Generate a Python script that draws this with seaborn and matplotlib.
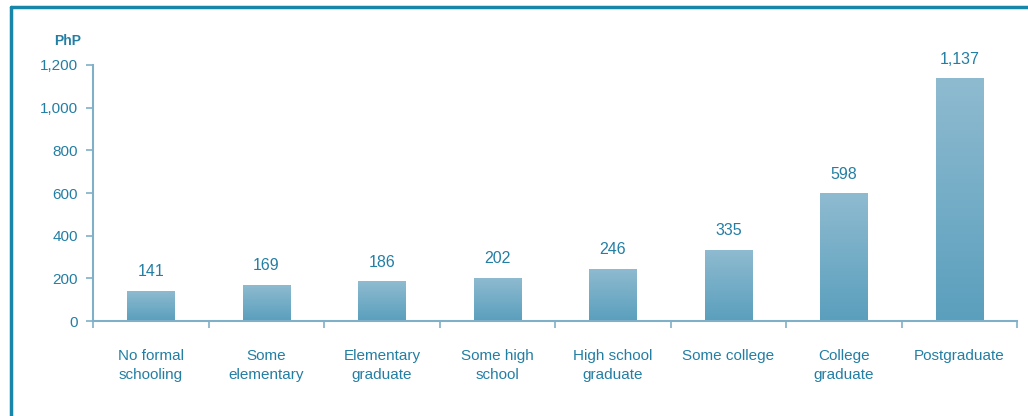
import matplotlib
matplotlib.use("Agg")
import matplotlib.pyplot as plt
import matplotlib.colors as mcolors
import numpy as np
import pandas as pd
import seaborn as sns

sns.set_theme(style="white")
plt.rcParams['font.family'] = ['Liberation Sans', 'DejaVu Sans']

categories = ["No formal\nschooling", "Some\nelementary", "Elementary\ngraduate",
              "Some high\nschool", "High school\ngraduate", "Some college",
              "College\ngraduate", "Postgraduate"]
values = [141, 169, 186, 202, 246, 335, 598, 1137]
value_labels = ["141", "169", "186", "202", "246", "335", "598", "1,137"]
y_ticks = [0, 200, 400, 600, 800, 1000, 1200]
y_ticklabels = ["0", "200", "400", "600", "800", "1,000", "1,200"]

text_color = "#237ea4"
axis_color = "#7fb0c8"
frame_color = "#1786a8"

df = pd.DataFrame({"category": categories, "value": values})

fig = plt.figure(figsize=(10.28, 4.16), dpi=100)
ax = fig.add_axes([0.0905, 0.228, 0.899, 0.616])

sns.barplot(data=df, x="category", y="value", ax=ax, width=0.41,
            color="#6aa8c2", saturation=1, edgecolor="none")

# gradient fill on each bar
cmap = mcolors.LinearSegmentedColormap.from_list("bar", ["#5a9fbd", "#8fbbd0"])
grad = np.linspace(0, 1, 256).reshape(-1, 1)
for patch in ax.patches:
    x0, y0 = patch.get_x(), patch.get_y()
    w, h = patch.get_width(), patch.get_height()
    im = ax.imshow(grad, extent=[x0, x0 + w, y0, y0 + h], origin="lower",
                   cmap=cmap, aspect="auto", zorder=patch.get_zorder() + 0.1)
    im.set_clip_path(patch)

ax.set_xlim(-0.5, len(categories) - 0.5)
ax.set_ylim(0, 1200)

for i, (v, lab) in enumerate(zip(values, value_labels)):
    ax.text(i, v + 55, lab, ha="center", va="bottom", color=text_color, fontsize=11.5)

ax.set_yticks(y_ticks)
ax.set_yticklabels(y_ticklabels, color=text_color, fontsize=11)
ax.set_xticks(np.arange(len(categories)))
ax.set_xticklabels(categories, color=text_color, fontsize=11, linespacing=1.45)
ax.tick_params(axis="x", which="major", length=0, pad=20)
ax.set_xticks(np.arange(-0.5, len(categories)), minor=True)
ax.tick_params(axis="x", which="minor", bottom=True, length=5, color=axis_color,
               width=1.2, direction="out")
ax.tick_params(axis="y", length=5, color=axis_color, width=1.2, direction="out", left=True, pad=6)
ax.set_xlabel("")
ax.set_ylabel("")

for side in ["top", "right"]:
    ax.spines[side].set_visible(False)
for side in ["left", "bottom"]:
    ax.spines[side].set_color(axis_color)
    ax.spines[side].set_linewidth(1.5)

fig.text(0.066, 0.893, "PhP", color=text_color, fontsize=10, fontweight="bold", ha="center")

# frame (top and left edges visible)
fig.add_artist(plt.Line2D([0.0105, 0.0105], [0, 0.982], transform=fig.transFigure,
                          color=frame_color, linewidth=2.5))
fig.add_artist(plt.Line2D([0.0105, 1.0], [0.982, 0.982], transform=fig.transFigure,
                          color=frame_color, linewidth=2.5))

fig.savefig("out.png", dpi=100)
